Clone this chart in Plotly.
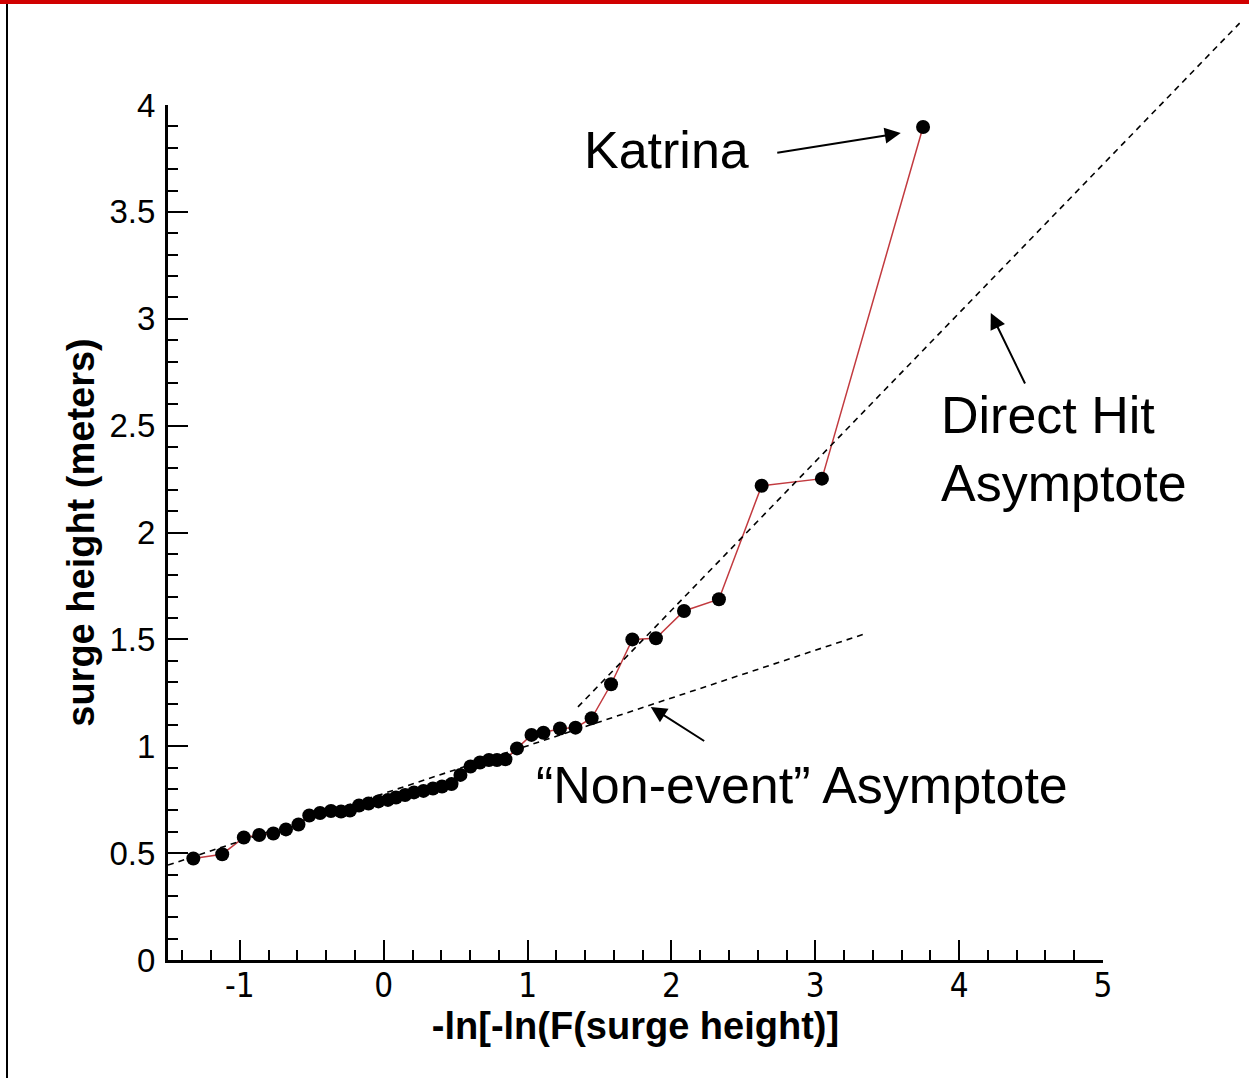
import plotly.graph_objects as go

# ---------------- data ----------------
x_vals = [-1.324, -1.123, -0.973, -0.866, -0.768, -0.680, -0.593, -0.518, -0.443, -0.367,
          -0.297, -0.235, -0.172, -0.106, -0.037, 0.029, 0.085, 0.148, 0.210, 0.276,
          0.342, 0.405, 0.471, 0.533, 0.603, 0.669, 0.731, 0.787, 0.846, 0.926,
          1.027, 1.110, 1.225, 1.333, 1.445, 1.580, 1.728, 1.892, 2.087, 2.330,
          2.627, 3.046, 3.749]
y_vals = [0.475, 0.495, 0.573, 0.585, 0.592, 0.611, 0.634, 0.676, 0.688, 0.697,
          0.695, 0.699, 0.723, 0.732, 0.742, 0.749, 0.760, 0.772, 0.784, 0.791,
          0.802, 0.812, 0.823, 0.866, 0.905, 0.924, 0.936, 0.936, 0.939, 0.990,
          1.053, 1.063, 1.083, 1.087, 1.131, 1.290, 1.500, 1.505, 1.633, 1.688,
          2.219, 2.252, 3.897]

nonevent_x = [-1.5, 3.34]
nonevent_y = [0.444, 1.525]
directhit_x = [1.35, 5.95]
directhit_y = [1.184, 4.383]

x_range = [-1.5, 5]
y_range = [0, 4]
x_tickvals = [-1, 0, 1, 2, 3, 4, 5]
x_ticktext = ["-1", "0", "1", "2", "3", "4", "5"]
y_tickvals = [0, 0.5, 1, 1.5, 2, 2.5, 3, 3.5, 4]
y_ticktext = ["0", "0.5", "1", "1.5", "2", "2.5", "3", "3.5", "4"]

# ---------------- layout geometry (pixels) ----------------
W, H = 1249, 1078
ax_left, ax_right = 168, 1103
ax_top, ax_bottom = 105, 960
pap_right, pap_top = 1240, 10

pap_w = pap_right - ax_left
pap_h = ax_bottom - pap_top
px_per_x = (ax_right - ax_left) / (x_range[1] - x_range[0])
px_per_y = (ax_bottom - ax_top) / (y_range[1] - y_range[0])
x2_range = [x_range[0], x_range[0] + pap_w / px_per_x]
y2_range = [y_range[0], y_range[0] + pap_h / px_per_y]


def px_to_paper_x(px):
    return (px - ax_left) / pap_w


def px_to_paper_y(py):
    return (ax_bottom - py) / pap_h


fig = go.Figure()

fig.add_trace(go.Scatter(
    x=x_vals, y=y_vals, mode="lines+markers",
    line=dict(color="#c23a3f", width=1.5),
    marker=dict(color="black", size=14, line=dict(width=0)),
    xaxis="x", yaxis="y", hoverinfo="skip"))

fig.add_trace(go.Scatter(
    x=nonevent_x, y=nonevent_y, mode="lines",
    line=dict(color="black", width=1.6, dash="6px,5px"),
    xaxis="x", yaxis="y", hoverinfo="skip"))

fig.add_trace(go.Scatter(
    x=directhit_x, y=directhit_y, mode="lines",
    line=dict(color="black", width=1.6, dash="6px,5px"),
    xaxis="x2", yaxis="y2", hoverinfo="skip"))

tick_font_y = dict(family="Liberation Sans, Arial, sans-serif", size=33, color="black")
tick_font_x = dict(family="Liberation Sans Narrow, DejaVu Sans Condensed, Arial, sans-serif", size=33, color="black")
title_font = dict(family="Liberation Sans, Arial, sans-serif", size=38, color="black")
ann_font = dict(family="Liberation Sans, Arial, sans-serif", size=52, color="black")

fig.update_layout(
    width=W, height=H,
    margin=dict(l=ax_left, r=W - pap_right, t=pap_top, b=H - ax_bottom, pad=0, autoexpand=False),
    paper_bgcolor="white", plot_bgcolor="rgba(0,0,0,0)",
    showlegend=False,
    xaxis=dict(
        domain=[0, (ax_right - ax_left) / pap_w], range=x_range, automargin=False,
        showline=True, linewidth=3, linecolor="black", mirror=False,
        showgrid=False, zeroline=False,
        ticks="inside", ticklen=20, tickwidth=2, tickcolor="black",
        tickmode="array", tickvals=x_tickvals, ticktext=x_ticktext,
        tickfont=tick_font_x, ticklabelstandoff=-6,
        minor=dict(ticks="inside", ticklen=10, tickwidth=1.5, tickcolor="black", dtick=0.2, tick0=0, showgrid=False),
        title=dict(text="<b>-ln[-ln(F(surge height)]</b>", font=title_font, standoff=2),
        anchor="y",
    ),
    yaxis=dict(
        domain=[0, (ax_bottom - ax_top) / pap_h], range=y_range, automargin=False,
        showline=True, linewidth=3, linecolor="black", mirror=False,
        showgrid=False, zeroline=False,
        ticks="inside", ticklen=20, tickwidth=2, tickcolor="black",
        tickmode="array", tickvals=y_tickvals, ticktext=y_ticktext,
        tickfont=tick_font_y, ticklabelstandoff=3,
        minor=dict(ticks="inside", ticklen=10, tickwidth=1.5, tickcolor="black", dtick=0.1, tick0=0, showgrid=False),
        title=dict(text="<b>surge height (meters)</b>", font=title_font, standoff=4),
        anchor="x",
    ),
    xaxis2=dict(domain=[0, 1], range=x2_range, visible=False, anchor="y2", automargin=False),
    yaxis2=dict(domain=[0, 1], range=y2_range, visible=False, anchor="x2", automargin=False),
)

# text annotations
fig.add_annotation(x=1.967, y=3.79, xref="x", yref="y", text="Katrina",
                   showarrow=False, font=ann_font, xanchor="center", yanchor="middle")
fig.add_annotation(x=3.86, y=2.39, xref="x", yref="y", text="Direct Hit<br>Asymptote",
                   showarrow=False, font=ann_font, xanchor="left", yanchor="middle", align="left")
fig.add_annotation(x=2.906, y=0.819, xref="x", yref="y", text="\u201cNon-event\u201d Asymptote",
                   showarrow=False, font=ann_font, xanchor="center", yanchor="middle")

# arrows
arrow_style = dict(showarrow=True, arrowhead=2, arrowsize=1.6, arrowwidth=2, arrowcolor="black",
                   xref="x", yref="y", axref="x", ayref="y", text="", standoff=0, startstandoff=0)
fig.add_annotation(x=3.594, y=3.869, ax=2.725, ay=3.775, **arrow_style)
fig.add_annotation(x=4.22, y=3.027, ax=4.463, ay=2.69, **arrow_style)
fig.add_annotation(x=1.856, y=1.184, ax=2.238, ay=1.02, **arrow_style)

# page decorations: red header bar and left border
fig.add_shape(type="rect", xref="paper", yref="paper",
              x0=px_to_paper_x(0), x1=px_to_paper_x(W), y0=px_to_paper_y(4), y1=px_to_paper_y(0),
              fillcolor="#d10000", line=dict(width=0), layer="above")
fig.add_shape(type="line", xref="paper", yref="paper",
              x0=px_to_paper_x(7), x1=px_to_paper_x(7), y0=px_to_paper_y(4), y1=px_to_paper_y(H),
              line=dict(color="black", width=2), layer="above")

fig.write_html("out.html")
